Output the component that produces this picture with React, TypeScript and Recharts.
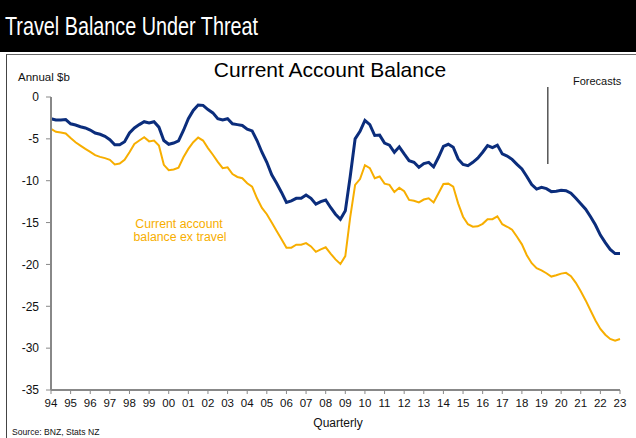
import React from 'react';
import { LineChart, Line, XAxis, YAxis, ReferenceLine } from 'recharts';

// quarterly, starting 1994 Q1
const startYear = 1994;
const currentAccount = [
  -2.6, -2.75, -2.75, -2.7, -3.2, -3.35, -3.55, -3.7, -3.95, -4.3,
  -4.45, -4.7, -5.1, -5.7, -5.7, -5.35, -4.3, -3.7, -3.3, -2.95,
  -3.1, -2.95, -3.6, -5.2, -5.65, -5.5, -5.25, -4.0, -2.6, -1.6,
  -0.95, -1.0, -1.5, -1.9, -2.6, -2.75, -2.6, -3.2, -3.3, -3.4,
  -3.85, -4.05, -5.2, -6.6, -7.8, -9.3, -10.3, -11.4, -12.6, -12.4,
  -12.1, -12.1, -11.7, -12.1, -12.8, -12.5, -12.3, -13.2, -14.0, -14.6,
  -13.6, -9.5, -5.0, -4.1, -2.8, -3.3, -4.6, -4.55, -5.5, -5.75,
  -6.6, -5.95, -6.8, -7.6, -7.8, -8.4, -7.95, -7.8, -8.35, -7.2,
  -5.9, -5.65, -6.0, -7.4, -8.05, -8.2, -7.8, -7.3, -6.6, -5.8,
  -6.05, -5.75, -6.8, -7.05, -7.45, -8.05, -8.6, -9.5, -10.45, -11.0,
  -10.8, -10.95, -11.3, -11.25, -11.15, -11.2, -11.5, -12.1, -12.75, -13.4,
  -14.3, -15.3, -16.5, -17.4, -18.2, -18.7, -18.7,
];
const exTravel = [
  -3.8, -4.15, -4.25, -4.35, -4.9, -5.4, -5.8, -6.2, -6.55, -6.95,
  -7.15, -7.3, -7.5, -8.05, -7.95, -7.5, -6.6, -5.6, -5.2, -4.8,
  -5.3, -5.2, -5.8, -8.1, -8.75, -8.65, -8.45, -7.2, -6.2, -5.4,
  -4.85, -5.2, -6.1, -6.9, -7.75, -8.5, -8.4, -9.2, -9.55, -9.7,
  -10.3, -10.7, -12.1, -13.25, -14.0, -15.0, -16.0, -17.0, -18.0, -18.0,
  -17.65, -17.65, -17.45, -17.85, -18.5, -18.2, -17.95, -18.7, -19.4, -19.95,
  -19.0, -14.35, -10.5, -9.8, -8.15, -8.5, -9.7, -9.5, -10.35, -10.5,
  -11.35, -10.85, -11.25, -12.3, -12.4, -12.6, -12.25, -12.1, -12.6, -11.5,
  -10.4, -10.35, -10.7, -12.7, -14.3, -15.2, -15.5, -15.45, -15.15, -14.6,
  -14.6, -14.25, -15.2, -15.5, -15.85, -16.7, -17.6, -18.9, -19.85, -20.45,
  -20.7, -21.05, -21.45, -21.3, -21.1, -21.0, -21.4, -22.2, -23.2, -24.3,
  -25.5, -26.7, -27.7, -28.4, -28.9, -29.1, -28.9,
];
const yearTicks = [
  1994, 1995, 1996, 1997, 1998, 1999, 2000, 2001, 2002, 2003, 2004, 2005,
  2006, 2007, 2008, 2009, 2010, 2011, 2012, 2013, 2014, 2015, 2016, 2017,
  2018, 2019, 2020, 2021, 2022, 2023,
];
const valueTicks = [0, -5, -10, -15, -20, -25, -30, -35];
const forecastStart = 2019.32;

const NAVY = '#0b2d7c';
const GOLD = '#f7ae00';
const FONT = '"Liberation Sans", Arial, sans-serif';

const data = currentAccount.map((v, i) => ({
  year: startYear + i / 4,
  ca: v,
  exTravel: exTravel[i],
}));

export default function App() {
  return (
    <div style={{ position: 'absolute', top: 0, left: 0, width: 636, height: 438, background: '#fff', overflow: 'hidden', fontFamily: FONT }}>
      <div style={{ position: 'absolute', top: 0, left: 0, width: 636, height: 52, background: '#000' }} />
      <div style={{ position: 'absolute', top: 54, left: 6, width: 700, height: 500, borderTop: '1px solid #666', borderLeft: '1px solid #444' }} />

      <div style={{ position: 'absolute', top: 0, left: 0 }}>
        <LineChart width={636} height={438} data={data} margin={{ top: 97, right: 16, bottom: 18, left: 11 }}>
          <XAxis
            dataKey="year"
            type="number"
            domain={[1994, 2023]}
            ticks={yearTicks}
            interval={0}
            tickFormatter={(v: number) => String(v % 100).padStart(2, '0')}
            height={30}
            tickSize={4}
            tickMargin={5}
            axisLine={{ stroke: '#888', strokeWidth: 2 }}
            tickLine={{ stroke: '#888' }}
            tick={{ fill: '#111', fontSize: 11.5, fontFamily: FONT }}
          />
          <YAxis
            type="number"
            domain={[-35, 0]}
            ticks={valueTicks}
            interval={0}
            width={40}
            tickSize={5}
            tickMargin={7}
            axisLine={{ stroke: '#888', strokeWidth: 2 }}
            tickLine={{ stroke: '#888' }}
            tick={{ fill: '#111', fontSize: 12, fontFamily: FONT }}
          />
          <ReferenceLine
            segment={[{ x: forecastStart, y: 1.2 }, { x: forecastStart, y: -8 }]}
            ifOverflow="visible"
            stroke="#555"
            strokeWidth={1.5}
          />
          <Line type="linear" dataKey="exTravel" stroke={GOLD} strokeWidth={2} dot={false} isAnimationActive={false} />
          <Line type="linear" dataKey="ca" stroke={NAVY} strokeWidth={3} dot={false} isAnimationActive={false} />
        </LineChart>
      </div>

      <svg width={636} height={438} style={{ position: 'absolute', top: 0, left: 0, pointerEvents: 'none' }}>
        <text x={5} y={35} fill="#fff" fontSize={25} fontFamily={FONT} textLength={253} lengthAdjust="spacingAndGlyphs">
          Travel Balance Under Threat
        </text>
        <text x={330} y={77} textAnchor="middle" fill="#000" fontSize={21} fontFamily={FONT}>
          Current Account Balance
        </text>
        <text x={18} y={81} fill="#111" fontSize={11.5} fontFamily={FONT}>Annual $b</text>
        <text x={573} y={85} fill="#111" fontSize={11} fontFamily={FONT}>Forecasts</text>
        <text x={179} y={228} textAnchor="middle" fill={GOLD} fontSize={12.3} fontFamily={FONT}>Current account</text>
        <text x={180} y={241} textAnchor="middle" fill={GOLD} fontSize={12.3} fontFamily={FONT}>balance ex travel</text>
        <text x={338} y={427} textAnchor="middle" fill="#111" fontSize={12} fontFamily={FONT}>Quarterly</text>
        <text x={12} y={435} fill="#111" fontSize={8.6} fontFamily={FONT}>Source: BNZ, Stats NZ</text>
      </svg>
    </div>
  );
}
